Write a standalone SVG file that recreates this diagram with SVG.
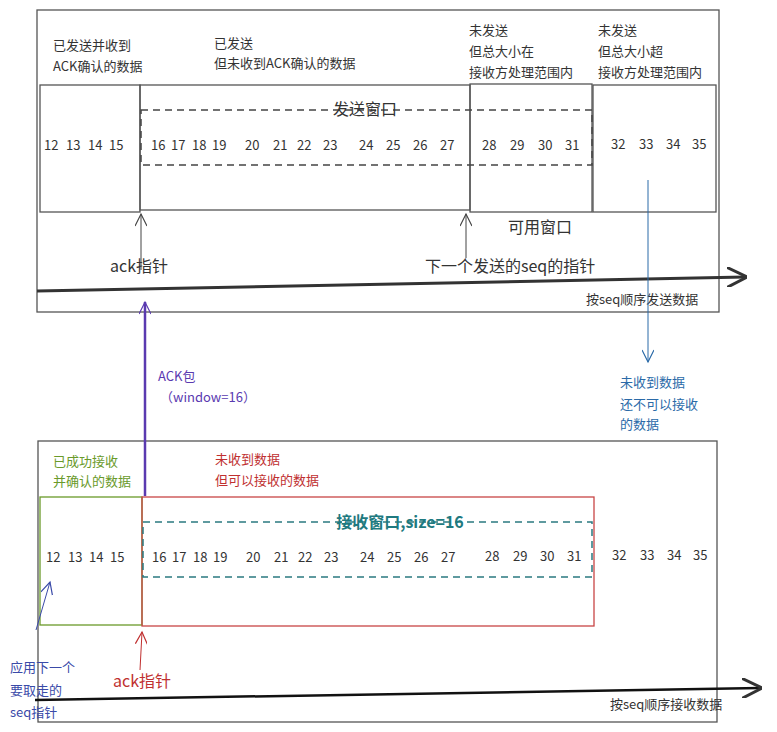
<svg xmlns="http://www.w3.org/2000/svg" width="777" height="732" viewBox="0 0 777 732">
<style>
text{font-family:"Noto Sans CJK SC","Liberation Sans",sans-serif;font-size:13px;fill:#333}
.n{font-size:13px}
.box{fill:none;stroke:#555;stroke-width:1.3}
.dash{fill:none;stroke:#444;stroke-width:1.5;stroke-dasharray:7 5}
.big{font-size:16px}
</style>
<defs>
<marker id="ah" viewBox="0 0 10 10" refX="10" refY="5" markerWidth="16" markerHeight="12" orient="auto" markerUnits="userSpaceOnUse"><path d="M0,0 L10,5 L0,10" fill="none" stroke="context-stroke" stroke-width="1"/></marker>
<marker id="ahb" viewBox="0 0 10 10" refX="9" refY="5" markerWidth="20" markerHeight="20" orient="auto" markerUnits="userSpaceOnUse"><path d="M0,0 L10,5 L0,10" fill="none" stroke="#333" stroke-width="1.5"/></marker>
</defs>
<rect width="777" height="732" fill="#fff"/>
<g id="sender">
<rect class="box" x="37" y="10" width="682" height="302"/>
<rect class="box" x="40" y="85" width="100" height="127"/>
<rect class="box" x="140" y="85" width="330" height="125"/>
<rect class="box" x="470" y="84" width="122" height="128"/>
<rect class="box" x="593" y="85" width="123" height="127"/>
<rect class="dash" x="141" y="110" width="451" height="55"/>
<text x="53" y="50">已发送并收到</text><text x="53" y="71">ACK确认的数据</text>
<text x="214" y="48">已发送</text><text x="214" y="68">但未收到ACK确认的数据</text>
<text x="469" y="35">未发送</text><text x="469" y="56">但总大小在</text><text x="469" y="77">接收方处理范围内</text>
<text x="598" y="35">未发送</text><text x="598" y="56">但总大小超</text><text x="598" y="77">接收方处理范围内</text>
<text class="big" x="365" y="115" text-anchor="middle">发送窗口</text>
<text class="big" x="508" y="233">可用窗口</text>
<text class="big" x="110" y="272">ack指针</text>
<text class="big" x="425" y="272">下一个发送的seq的指针</text>
<text x="586" y="304">按seq顺序发送数据</text>
<g class="n">
<text x="44" y="150">12</text><text x="66" y="150">13</text><text x="88" y="150">14</text><text x="109" y="150">15</text>
<text x="151" y="150">16</text><text x="171" y="150">17</text><text x="192" y="150">18</text><text x="212" y="150">19</text>
<text x="245" y="150">20</text><text x="273" y="150">21</text><text x="297" y="150">22</text><text x="323" y="150">23</text>
<text x="359" y="150">24</text><text x="386" y="150">25</text><text x="413" y="150">26</text><text x="440" y="150">27</text>
<text x="482" y="150">28</text><text x="510" y="150">29</text><text x="538" y="150">30</text><text x="565" y="150">31</text>
<text x="611" y="149">32</text><text x="639" y="149">33</text><text x="666" y="149">34</text><text x="692" y="149">35</text>
</g>
</g>
<g id="receiver">
<rect class="box" x="38" y="441" width="679" height="281"/>
<rect x="40" y="497" width="102" height="128" fill="none" stroke="#6a9a2a" stroke-width="1.3"/>
<rect x="142" y="497" width="452" height="129" fill="none" stroke="#c84545" stroke-width="1.3"/>
<rect x="143" y="522" width="449" height="55" fill="none" stroke="#2a7a80" stroke-width="1.5" stroke-dasharray="7 5"/>
<text class="big" x="400" y="528" text-anchor="middle" style="fill:#1f7a80;font-weight:bold">接收窗口,size=16</text>
<text x="53" y="466" style="fill:#6a9a2a">已成功接收</text><text x="53" y="486" style="fill:#6a9a2a">并确认的数据</text>
<text x="215" y="464" style="fill:#c03030">未收到数据</text><text x="215" y="485" style="fill:#c03030">但可以接收的数据</text>
<text x="10" y="672" style="fill:#3a4aa8">应用下一个</text><text x="10" y="695" style="fill:#3a4aa8">要取走的</text><text x="10" y="717" style="fill:#3a4aa8">seq指针</text>
<text class="big" x="113" y="687" style="fill:#c03030">ack指针</text>
<text x="610" y="709">按seq顺序接收数据</text>
<g class="n">
<text x="46" y="562">12</text><text x="68" y="562">13</text><text x="89" y="562">14</text><text x="110" y="562">15</text>
<text x="152" y="562">16</text><text x="172" y="562">17</text><text x="193" y="562">18</text><text x="213" y="562">19</text>
<text x="246" y="562">20</text><text x="274" y="562">21</text><text x="298" y="562">22</text><text x="324" y="562">23</text>
<text x="360" y="562">24</text><text x="387" y="562">25</text><text x="414" y="562">26</text><text x="441" y="562">27</text>
<text x="485" y="561">28</text><text x="513" y="561">29</text><text x="540" y="561">30</text><text x="567" y="561">31</text>
<text x="612" y="560">32</text><text x="640" y="560">33</text><text x="667" y="560">34</text><text x="693" y="560">35</text>
</g>
</g>
<g id="notes">
<text x="620" y="387" style="fill:#2a6aa8">未收到数据</text><text x="620" y="409" style="fill:#2a6aa8">还不可以接收</text><text x="620" y="429" style="fill:#2a6aa8">的数据</text>
<text x="158" y="381" style="fill:#5a3ab0">ACK包</text><text x="160" y="402" style="fill:#5a3ab0">（window=16）</text>
</g>
<g id="connectors" fill="none">
<path d="M141,270 L141,214" stroke="#444" marker-end="url(#ah)"/>
<path d="M466,258 L466,214" stroke="#444" marker-end="url(#ah)"/>
<path d="M37,291 L745,277" stroke="#333" stroke-width="3" marker-end="url(#ahb)"/>
<path d="M648,180 L648,362" stroke="#2a6aa8" marker-end="url(#ah)"/>
<path d="M145,496 L145,302" stroke="#5a3ab0" stroke-width="2.5" marker-end="url(#ah)"/>
<path d="M36,630 L50,582" stroke="#3a4aa8" marker-end="url(#ah)"/>
<path d="M140,670 L142,632" stroke="#c03030" marker-end="url(#ah)"/>
<path d="M35,700 L760,688" stroke="#111" stroke-width="2.5" marker-end="url(#ahb)"/>
</g>
</svg>
